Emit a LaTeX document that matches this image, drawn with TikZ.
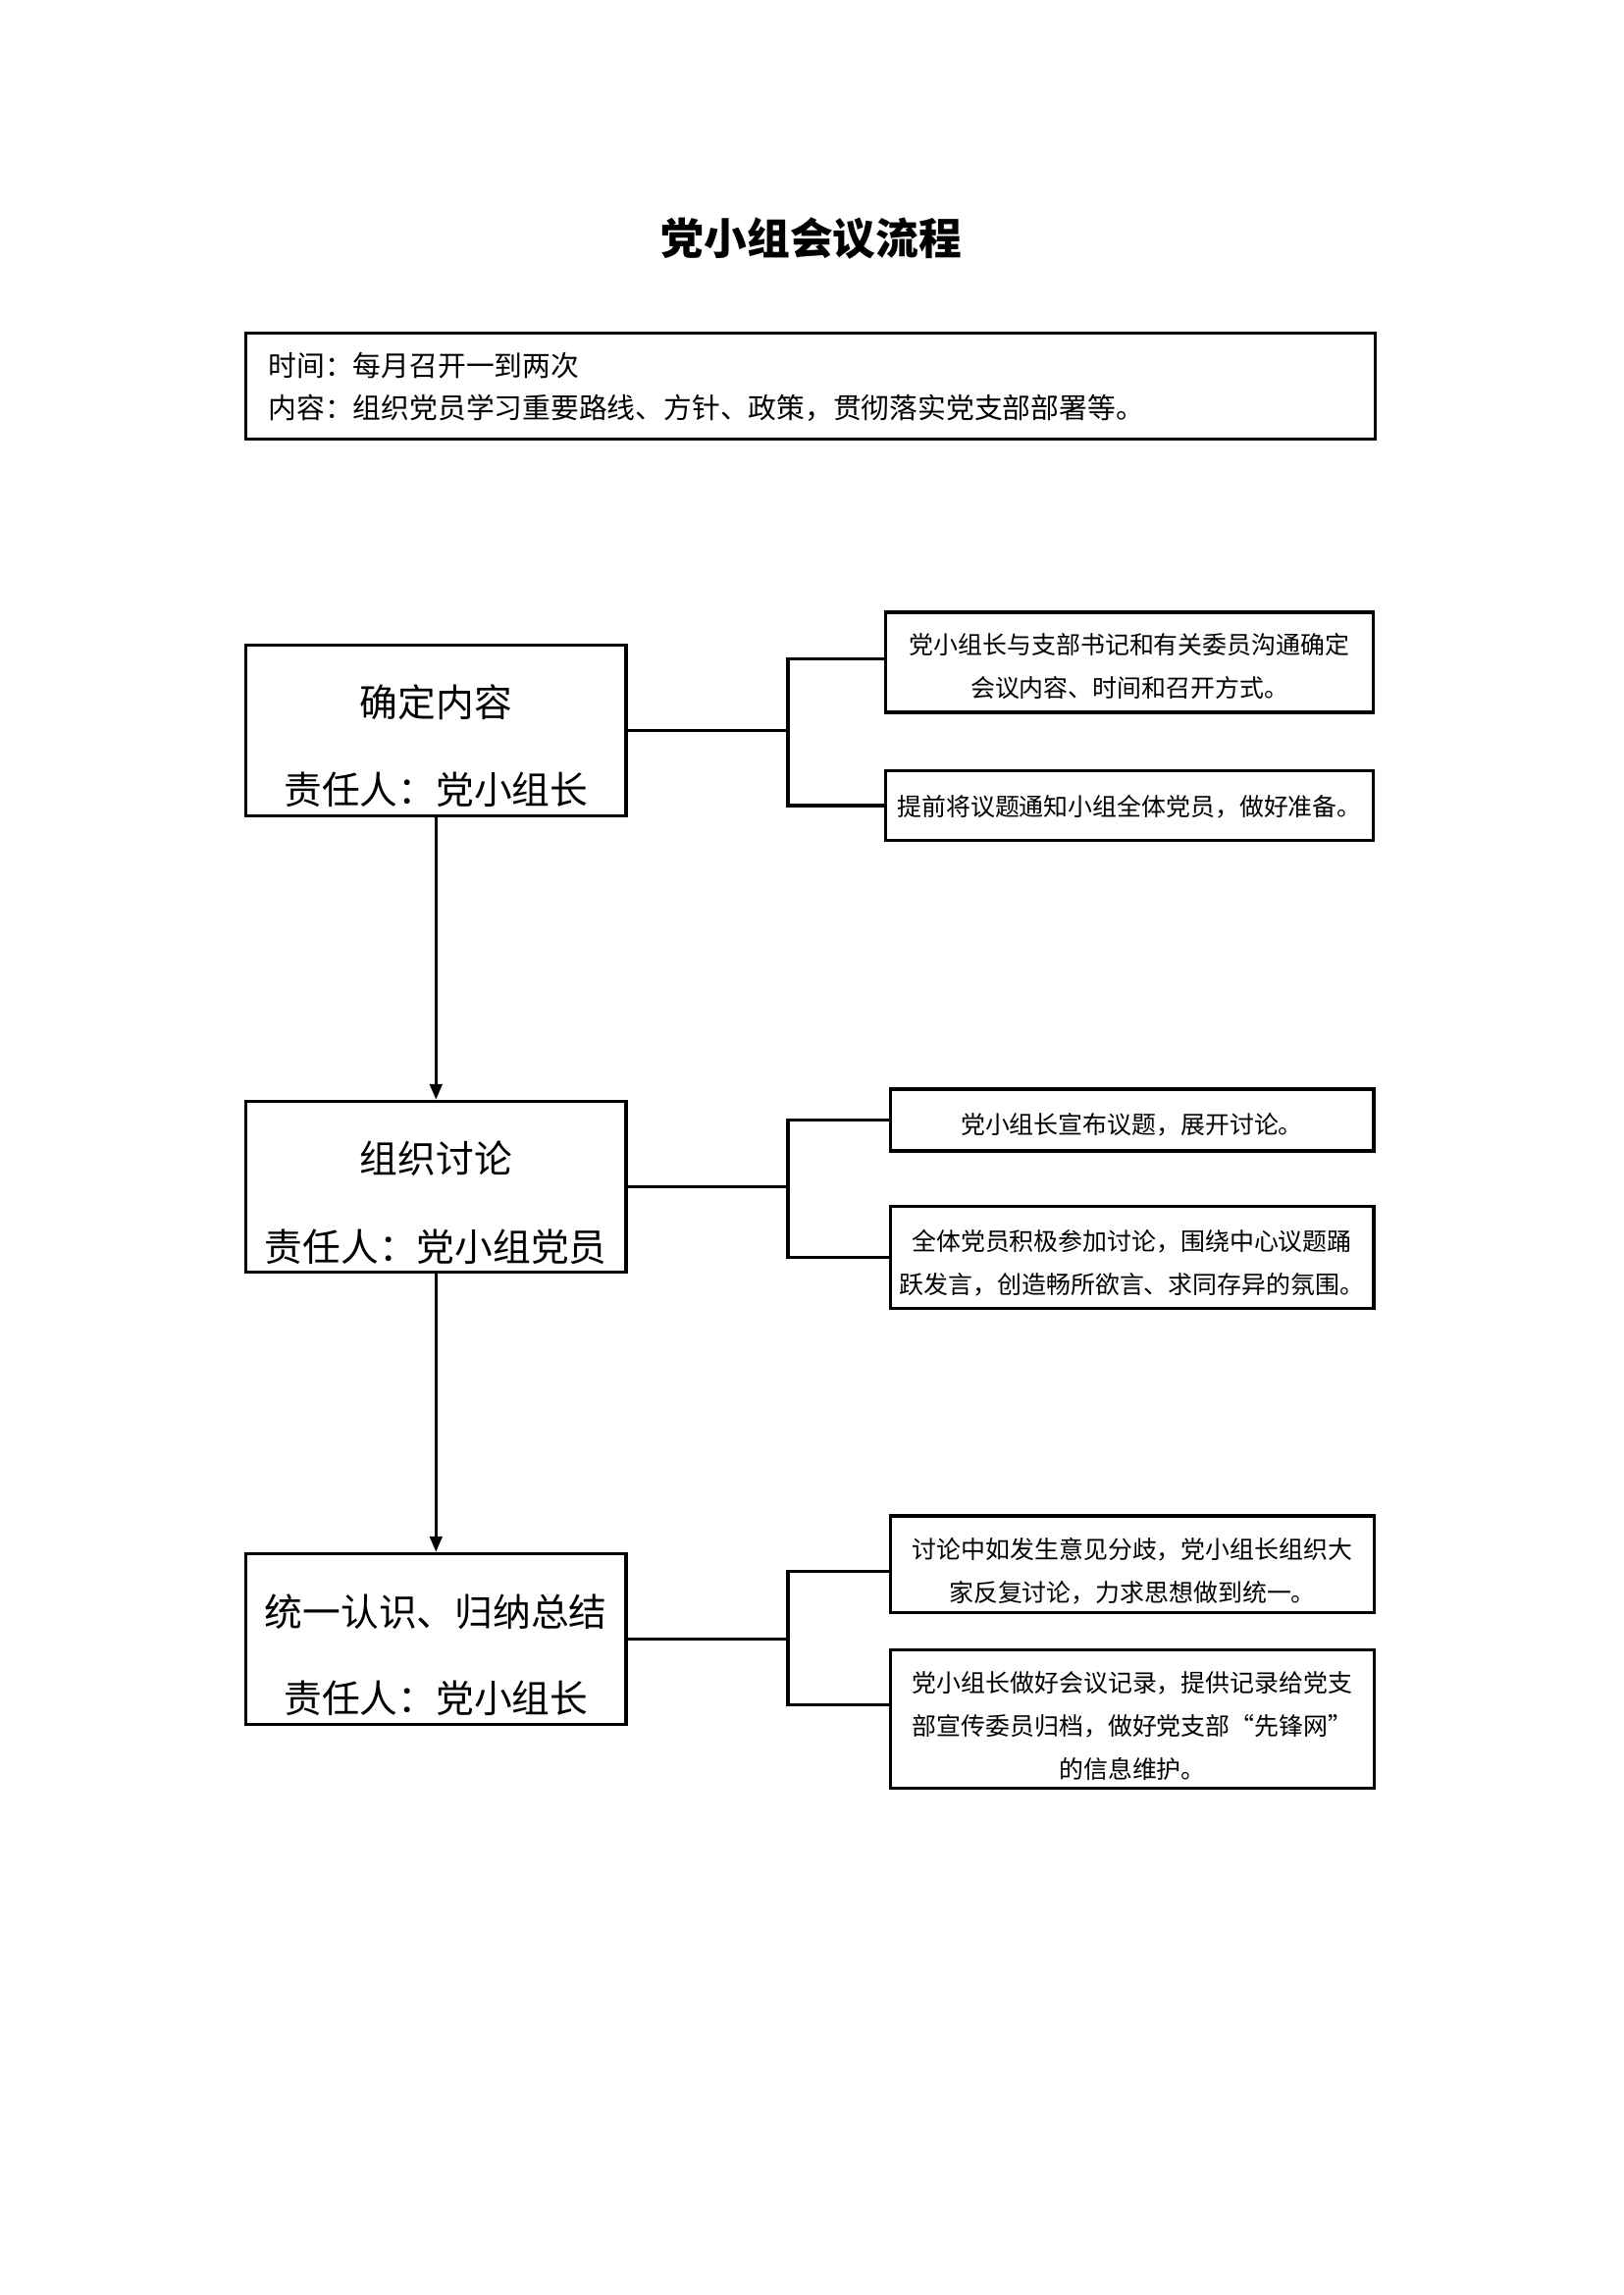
\documentclass[tikz,border=0pt]{standalone}
\usepackage{fontspec}
\setmainfont{Noto Sans CJK SC}
\usetikzlibrary{arrows.meta}
\begin{document}
\begin{tikzpicture}[x=0.127mm,y=-0.127mm,
  box/.style={draw,line width=1.1pt,inner sep=0pt,rectangle},
  big/.style={font=\fontsize{14}{18}\selectfont,inner sep=0pt},
  small/.style={font=\fontsize{9}{15.8}\selectfont,align=center,inner sep=0pt},
  conn/.style={line width=1.1pt},
  arr/.style={line width=1.1pt,-{Triangle[length=2mm,width=1.6mm]}}]
\useasboundingbox (0,0) rectangle (1654,2339);
% title
\node[font=\fontsize{15.8}{18}\selectfont\bfseries,inner sep=0pt] (title) at (827,243) {党小组会议流程};
% info box
\node[box,minimum width=146.2mm,minimum height=13.6mm] (info) at (826,393.5) {};
\node[font=\fontsize{10.4}{15.6}\selectfont,align=left,anchor=west,inner sep=0pt] (infotext) at (273,394)
  {时间：每月召开一到两次\\内容：组织党员学习重要路线、方针、政策，贯彻落实党支部部署等。};
% main boxes
\node[box,minimum width=49.2mm,minimum height=22.2mm] (B1) at (444.3,744.5) {};
\node[box,minimum width=49.2mm,minimum height=22.2mm] (B2) at (444.3,1209.5) {};
\node[box,minimum width=49.2mm,minimum height=22.2mm] (B3) at (444.3,1670.5) {};
\node[big] (B1a) at (444.3,716) {确定内容};
\node[big] (B1b) at (444.3,805) {责任人：党小组长};
\node[big] (B2a) at (444.3,1181) {组织讨论};
\node[big] (B2b) at (444.3,1271) {责任人：党小组党员};
\node[big] (B3a) at (444.3,1643) {统一认识、归纳总结};
\node[big] (B3b) at (444.3,1731) {责任人：党小组长};
% right boxes
\node[box,minimum width=63.2mm,minimum height=12.95mm] (R1a) at (1151,675) {};
\node[small] (R1at) at (1151,679) {党小组长与支部书记和有关委员沟通确定\\会议内容、时间和召开方式。};
\node[box,minimum width=63.2mm,minimum height=8.9mm] (R1b) at (1151,821) {};
\node[small] (R1bt) at (1151,822) {提前将议题通知小组全体党员，做好准备。};
\node[box,minimum width=62.6mm,minimum height=8.0mm] (R2a) at (1153.5,1141.5) {};
\node[small] (R2at) at (1153.5,1146) {党小组长宣布议题，展开讨论。};
\node[box,minimum width=62.6mm,minimum height=13.1mm] (R2b) at (1153.5,1281.5) {};
\node[small] (R2bt) at (1153.5,1287) {全体党员积极参加讨论，围绕中心议题踊\\跃发言，创造畅所欲言、求同存异的氛围。};
\node[box,minimum width=62.5mm,minimum height=12.45mm] (R3a) at (1154,1594) {};
\node[small] (R3at) at (1154,1601) {讨论中如发生意见分歧，党小组长组织大\\家反复讨论，力求思想做到统一。};
\node[box,minimum width=62.5mm,minimum height=18.0mm] (R3b) at (1154,1752) {};
\node[small] (R3bt) at (1154,1759) {党小组长做好会议记录，提供记录给党支\\部宣传委员归档，做好党支部“先锋网”\\的信息维护。};
% junctions
\coordinate (j1) at (803,744.5);
\coordinate (j2) at (803,1209.5);
\coordinate (j3) at (803,1670.5);
\draw[conn] (B1.east) -- (j1);
\draw[conn] ([yshift=0.5mm]R1a.west) -| (j1) |- (R1b.west);
\draw[conn] (B2.east) -- (j2);
\draw[conn] (R2a.west) -| (j2) |- (R2b.west);
\draw[conn] (B3.east) -- (j3);
\draw[conn] ([yshift=-0.9mm]R3a.west) -| (j3) |- ([yshift=1.9mm]R3b.west);
% arrows
\draw[arr] (B1.south) -- (B2.north);
\draw[arr] (B2.south) -- (B3.north);
\end{tikzpicture}
\end{document}
